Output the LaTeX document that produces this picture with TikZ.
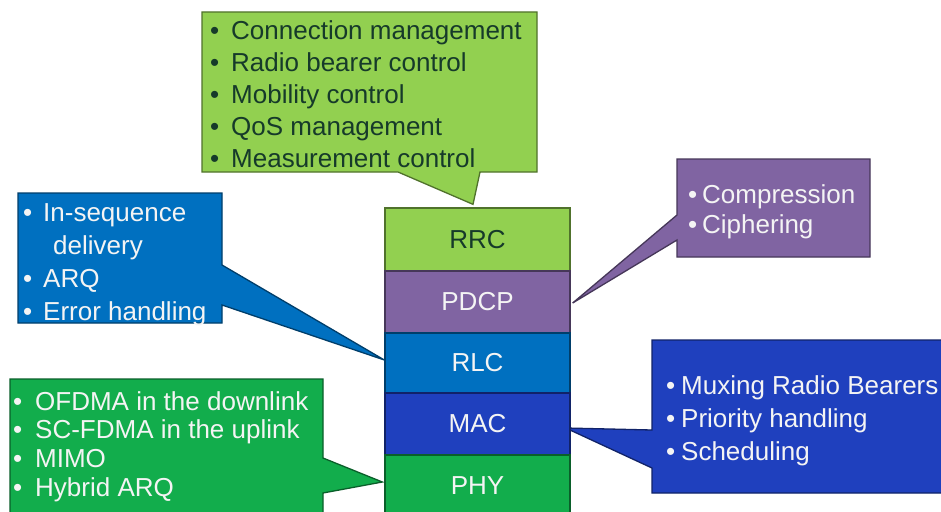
\documentclass[tikz,border=0pt]{standalone}
\usepackage{fontspec}
\setmainfont{Liberation Sans}
\usetikzlibrary{calc}

\definecolor{lgreen}{HTML}{92D050}
\definecolor{purp}{HTML}{8064A2}
\definecolor{rlcblue}{HTML}{0070C0}
\definecolor{macblue}{HTML}{1F40BE}
\definecolor{phygreen}{HTML}{12AD4C}
\definecolor{darktext}{HTML}{163A2A}
\definecolor{lighttext}{HTML}{F4F4F4}

\pgfdeclarelayer{bg}
\pgfsetlayers{bg,main}

% bullet followed by a fixed indent
\newcommand\bul[1]{\makebox[#1][l]{•}}

\begin{document}
\begin{tikzpicture}[x=1pt, y=-1pt,
  layerbox/.style={draw=#1!55!black, fill=#1, line width=1.3pt,
    minimum width=185pt, inner sep=0pt, text=lighttext,
    font=\fontsize{26}{30}\selectfont},
  cbox/.style={inner sep=0pt, outer sep=0pt},
  note/.style={anchor=north west, inner sep=0pt, align=left,
    text=lighttext},
  bubble/.style={fill=#1, draw=#1!55!black, line width=1.3pt,
    line join=miter}]

\useasboundingbox (0,0) rectangle (941,511);

% protocol stack
\node[layerbox=lgreen, minimum height=63pt, text=darktext] (rrc) at (477.5,239.5) {RRC};
\node[layerbox=purp, minimum height=62pt] (pdcp) at (477.5,302) {PDCP};
\node[layerbox=rlcblue, minimum height=60pt] (rlc) at (477.5,363) {RLC};
\node[layerbox=macblue, minimum height=62pt] (mac) at (477.5,424) {MAC};
\node[layerbox=phygreen, minimum height=62pt] (phy) at (477.5,486) {PHY};

% callout frames
\node[cbox, minimum width=335pt, minimum height=160pt] (nrrc) at (369.5,92) {};
\node[cbox, minimum width=204pt, minimum height=130pt] (nrlc) at (120,258) {};
\node[cbox, minimum width=193pt, minimum height=98pt] (npdcp) at (773.5,208) {};
\node[cbox, minimum width=318pt, minimum height=153pt] (nmac) at (811,416.5) {};
\node[cbox, minimum width=313pt, minimum height=134pt] (nphy) at (166.5,446) {};

% pointer tips on the stack
\coordinate (trrc) at ([xshift=-4.5pt, yshift=3pt]rrc.north);
\coordinate (trlc) at ([yshift=3pt]rlc.west);
\coordinate (tpdcp) at ([xshift=2pt, yshift=-1pt]pdcp.east);
\coordinate (tmac) at ([xshift=-5pt, yshift=-4pt]mac.east);
\coordinate (tphy) at ([xshift=-2pt, yshift=4pt]phy.west);

\begin{pgfonlayer}{bg}
  \fill[white] (0,0) rectangle (941,511);
  \draw[bubble=lgreen] (nrrc.north west) -- (nrrc.north east) -- (nrrc.south east)
    -- ($(nrrc.south west)+(278,0)$) -- (trrc) -- ($(nrrc.south west)+(196,0)$)
    -- (nrrc.south west) -- cycle;
  \draw[bubble=rlcblue] (nrlc.north west) -- (nrlc.north east)
    -- ($(nrlc.north east)+(0,72)$) -- (trlc) -- ($(nrlc.north east)+(0,112)$)
    -- (nrlc.south east) -- (nrlc.south west) -- cycle;
  \draw[bubble=purp] (npdcp.north west) -- (npdcp.north east) -- (npdcp.south east)
    -- (npdcp.south west) -- ($(npdcp.north west)+(0,81)$) -- (tpdcp)
    -- ($(npdcp.north west)+(0,56)$) -- cycle;
  \draw[bubble=macblue] (nmac.north west) -- (nmac.north east) -- (nmac.south east)
    -- (nmac.south west) -- ($(nmac.north west)+(0,128)$) -- (tmac)
    -- ($(nmac.north west)+(0,90)$) -- cycle;
  \draw[bubble=phygreen] (nphy.north west) -- (nphy.north east)
    -- ($(nphy.north east)+(0,79)$) -- (tphy) -- ($(nphy.north east)+(0,114)$)
    -- (nphy.south east) -- (nphy.south west) -- cycle;
\end{pgfonlayer}

% callout texts
\node[note, text=darktext, font=\fontsize{26}{32}\selectfont] (xrrc) at (210,20)
  {\bul{21pt}Connection management\\
   \bul{21pt}Radio bearer control\\
   \bul{21pt}Mobility control\\
   \bul{21pt}QoS management\\
   \bul{21pt}Measurement control};
\node[note, font=\fontsize{26}{33.3}\selectfont] (xrlc) at (23,203)
  {\bul{20pt}In-sequence\\
   \hspace*{30pt}delivery\\
   \bul{20pt}ARQ\\
   \bul{20pt}Error handling};
\node[note, font=\fontsize{26}{30}\selectfont] (xpdcp) at (688,184)
  {\bul{14pt}Compression\\
   \bul{14pt}Ciphering};
\node[note, font=\fontsize{26}{33}\selectfont] (xmac) at (666,375)
  {\bul{15pt}Muxing Radio Bearers\\
   \bul{15pt}Priority handling\\
   \bul{15pt}Scheduling};
\node[note, font=\fontsize{26}{28.7}\selectfont] (xphy) at (13,391)
  {\bul{22pt}OFDMA in the downlink\\
   \bul{22pt}SC-FDMA in the uplink\\
   \bul{22pt}MIMO\\
   \bul{22pt}Hybrid ARQ};
\end{tikzpicture}
\end{document}
